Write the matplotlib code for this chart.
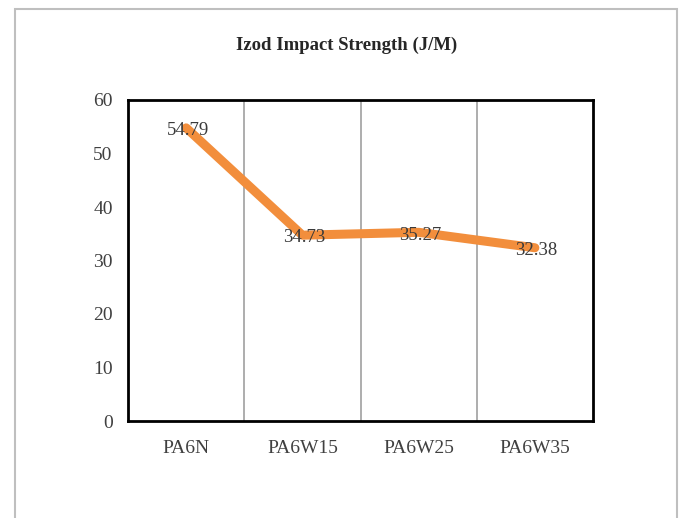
import matplotlib
matplotlib.use("Agg")
import matplotlib.pyplot as plt
from matplotlib.patches import Rectangle

categories = ["PA6N", "PA6W15", "PA6W25", "PA6W35"]
values = [54.79, 34.73, 35.27, 32.38]
value_labels = ["54.79", "34.73", "35.27", "32.38"]
yticks = [0, 10, 20, 30, 40, 50, 60]
title = "Izod Impact Strength (J/M)"

plt.rcParams['font.family'] = ['Liberation Serif', 'DejaVu Serif']

W, H = 681, 518
fig = plt.figure(figsize=(W / 100, H / 100), dpi=100)

# outer chart border
fig.patches.append(Rectangle((15 / W, -0.05), (677 - 15) / W, 1.05 - 9 / H,
                             transform=fig.transFigure, fill=False,
                             edgecolor="#BFBFBF", linewidth=1.5))

left, right, top, bottom = 128, 593, 100, 421
ax = fig.add_axes([left / W, 1 - bottom / H, (right - left) / W, (bottom - top) / H])

x = list(range(len(categories)))
ax.plot(x, values, color="#F28E3C", linewidth=6.5, solid_capstyle="round",
        solid_joinstyle="round", zorder=3)
for xi, v, lab in zip(x, values, value_labels):
    ax.annotate(lab, (xi, v), xytext=(1, -2), textcoords="offset points",
                ha="center", va="center", fontsize=13.5,
                color="#3A3A3A", zorder=4)

ax.set_xlim(-0.5, len(categories) - 0.5)
ax.set_ylim(0, 60)
ax.set_yticks(yticks)
ax.set_yticklabels([str(t) for t in yticks], fontsize=14, color="#404040")
ax.set_xticks(x)
ax.set_xticklabels(categories, fontsize=14, color="#404040")
ax.tick_params(axis="both", length=0)
ax.tick_params(axis="y", pad=11)
ax.tick_params(axis="x", pad=14)

for b in [0.5, 1.5, 2.5]:
    ax.axvline(b, color="#A0A0A0", linewidth=1.2, zorder=1)

for s in ax.spines.values():
    s.set_linewidth(2)
    s.set_color("black")

fig.text(0.5 + 6 / W, 1 - 45 / H, title, ha="center", va="center",
         fontsize=13.5, fontweight="bold", color="#262626")

fig.savefig("out.png", dpi=100)
